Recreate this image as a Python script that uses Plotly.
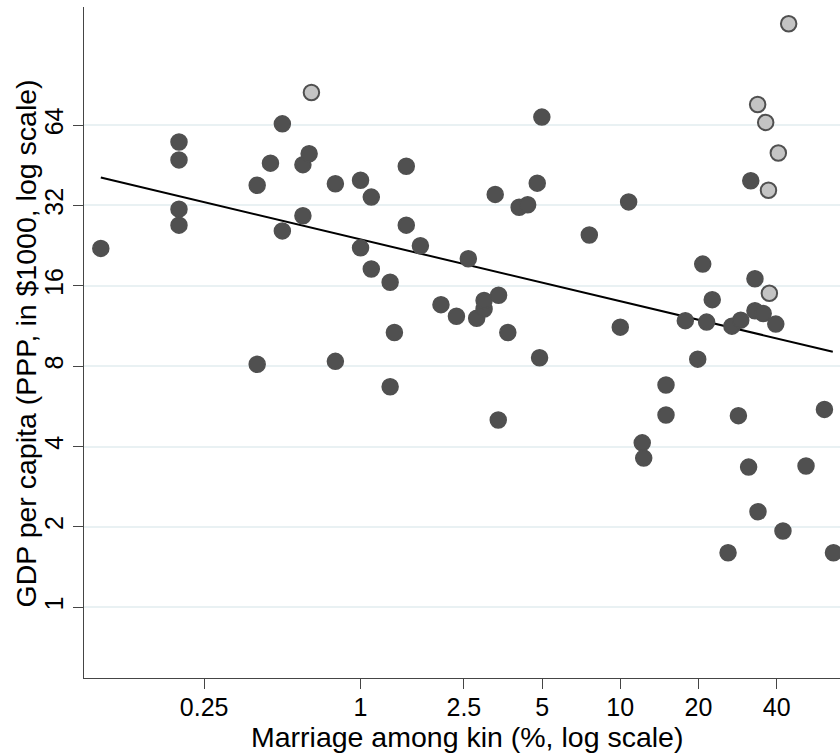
import plotly.graph_objects as go

# Marriage among kin (%) and GDP per capita (PPP, $1000) - dark markers
kin_dark = [0.10, 0.20, 0.20, 0.20, 0.20, 0.40, 0.40, 0.45, 0.50, 0.50,
            0.60, 0.634, 0.60, 0.80, 0.80, 1.0, 1.0, 1.10, 1.10, 1.30,
            1.30, 1.35, 1.5, 1.5, 1.70, 2.04, 2.34, 2.60, 2.80, 2.99,
            2.99, 3.40, 3.30, 3.39, 3.69, 4.08, 4.40, 4.79, 4.89, 4.99,
            7.60, 10.0, 10.77, 12.15, 12.31, 15.0, 15.0, 17.8, 19.87, 20.77,
            21.5, 22.6, 26.0, 26.9, 29.1, 28.5, 31.2, 31.8, 33.0, 33.0,
            33.9, 35.5, 39.7, 42.3, 51.9, 61.1, 66.2]
gdp_dark = [22.1, 55.3, 47.4, 31.0, 27.0, 38.1, 8.13, 46.1, 64.7, 25.7,
            45.5, 50.0, 29.3, 38.6, 8.34, 39.8, 22.2, 34.4, 18.5, 16.5,
            6.70, 10.7, 44.9, 27.0, 22.6, 13.6, 12.3, 20.2, 12.1, 13.1,
            14.1, 14.75, 35.2, 5.03, 10.7, 31.5, 32.2, 38.8, 8.6, 68.6,
            24.8, 11.2, 33.0, 4.13, 3.62, 6.80, 5.25, 11.85, 8.5, 19.3,
            11.7, 14.2, 1.60, 11.3, 11.9, 5.22, 3.35, 39.6, 17.0, 12.9,
            2.28, 12.6, 11.5, 1.93, 3.38, 5.51, 1.60]

# light (highlighted) markers
kin_light = [0.647, 33.8, 36.3, 40.6, 37.2, 37.5, 44.5]
gdp_light = [84.8, 76.5, 65.5, 50.3, 36.5, 15.0, 153.5]

# fitted line end points
fit_kin = [0.1, 65.8]
fit_gdp = [40.7, 9.06]

x_ticks = [0.25, 1, 2.5, 5, 10, 20, 40]
x_tick_labels = ["0.25", "1", "2.5", "5", "10", "20", "40"]
y_ticks = [1, 2, 4, 8, 16, 32, 64]
y_tick_labels = ["1", "2", "4", "8", "16", "32", "64"]

x_title = "Marriage among kin (%, log scale)"
y_title = "GDP per capita (PPP, in $1000, log scale)"

FONT = "Liberation Sans, Arial, sans-serif"
AXC = "#454545"
DARK = "#505050"

fig = go.Figure()
fig.add_trace(go.Scatter(x=fit_kin, y=fit_gdp, mode="lines",
                         line=dict(color="#000000", width=2),
                         showlegend=False, hoverinfo="skip"))
fig.add_trace(go.Scatter(x=kin_dark, y=gdp_dark, mode="markers",
                         marker=dict(size=16, color=DARK,
                                     line=dict(color=DARK, width=1.5)),
                         cliponaxis=False, showlegend=False))
fig.add_trace(go.Scatter(x=kin_light, y=gdp_light, mode="markers",
                         marker=dict(size=15.5, color="#c4c4c4",
                                     line=dict(color=DARK, width=2)),
                         cliponaxis=False, showlegend=False))

fig.update_layout(
    width=840, height=754,
    margin=dict(l=84, r=0, t=7, b=76),
    paper_bgcolor="white", plot_bgcolor="white",
    font=dict(family=FONT, color="#000000"),
    showlegend=False,
)
fig.update_xaxes(
    type="log", range=[-1.0647, 1.846], automargin=False,
    tickvals=x_ticks, ticktext=x_tick_labels,
    ticks="outside", ticklen=10, tickwidth=1.3, tickcolor=AXC,
    ticklabelstandoff=-3,
    showline=True, linecolor=AXC, linewidth=1.3,
    showgrid=False, zeroline=False,
    tickfont=dict(size=25, family=FONT, color="#000000"),
)
fig.update_yaxes(
    type="log", range=[-0.2651, 2.2487], automargin=False,
    tickvals=y_ticks, ticktext=y_tick_labels, tickangle=-90,
    ticks="outside", ticklen=10, tickwidth=1.3, tickcolor=AXC,
    showline=True, linecolor=AXC, linewidth=1.3,
    showgrid=True, gridcolor="#e9f1f3", gridwidth=1.5, zeroline=False,
    tickfont=dict(size=25, family=FONT, color="#000000"),
)

# axis titles
fig.add_annotation(text=x_title, xref="paper", yref="paper",
                   x=0.506, y=0, xanchor="center", yanchor="middle",
                   yshift=-59, showarrow=False,
                   font=dict(size=28.5, family=FONT, color="#000000"))
fig.add_annotation(text=y_title, xref="paper", yref="paper",
                   x=0, y=0.5, xanchor="center", yanchor="middle",
                   xshift=-59, yshift=-1, textangle=-90, showarrow=False,
                   font=dict(size=28.5, family=FONT, color="#000000"))

fig.write_html("out.html",
               config={"displayModeBar": False},
               post_script="document.body.style.margin='0';"
                           "document.body.style.overflow='hidden';")
